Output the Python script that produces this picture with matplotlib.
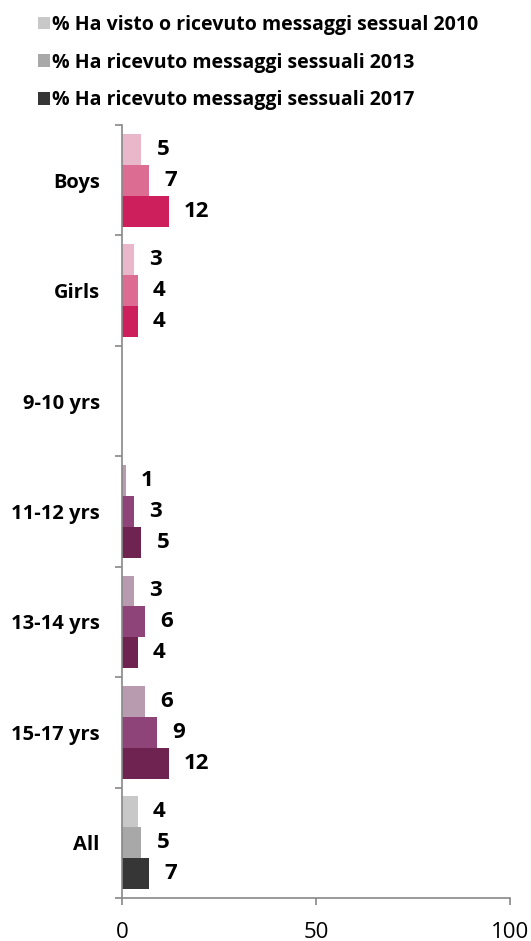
import matplotlib
matplotlib.use('Agg')
import matplotlib.pyplot as plt
from matplotlib.patches import Patch
import numpy as np

plt.rcParams['font.family'] = ['Open Sans', 'DejaVu Sans']

categories = ['Boys', 'Girls', '9-10 yrs', '11-12 yrs', '13-14 yrs', '15-17 yrs', 'All']
v2010 = [5, 3, None, 1, 3, 6, 4]
v2013 = [7, 4, None, 3, 6, 9, 5]
v2017 = [12, 4, None, 5, 4, 12, 7]
series_names = ['% Ha visto o ricevuto messaggi sessual 2010',
                '% Ha ricevuto messaggi sessuali 2013',
                '% Ha ricevuto messaggi sessuali 2017']

pink = ['#E8B8CA', '#DC6C91', '#CC1F5B']
purple = ['#B99BB0', '#8E4478', '#6E2350']
grey = ['#C8C8C8', '#A8A8A8', '#363636']
palette = [pink, pink, purple, purple, purple, purple, grey]

fig = plt.figure(figsize=(5.31, 9.41), dpi=100)
ax = fig.add_axes([0.2298, 0.0457, 0.7307, 0.8215])

h = 0.28
offsets = [-h, 0, h]
for k, vals in enumerate([v2010, v2013, v2017]):
    for i, v in enumerate(vals):
        if v is None:
            continue
        y = i + offsets[k]
        ax.barh(y, v, height=h, color=palette[i][k], edgecolor='none')
        ax.annotate(str(v), xy=(v, y), xytext=(11, 0), textcoords='offset points',
                    ha='left', va='center', fontsize=16, fontweight='bold')

ax.set_xlim(0, 100)
ax.set_ylim(len(categories) - 0.5, -0.5)
ax.set_xticks([0, 50, 100])
ax.tick_params(axis='x', labelsize=16, colors='#888888', length=5, width=1.2, pad=12,
               labelcolor='black')
ax.set_yticks(np.arange(len(categories) + 1) - 0.5)
ax.set_yticklabels([])
ax.set_yticks(np.arange(len(categories)), minor=True)
ax.set_yticklabels(categories, minor=True, fontsize=14.5, fontweight='bold')
ax.tick_params(axis='y', which='major', colors='#888888', length=5, width=1.2)
ax.tick_params(axis='y', which='minor', length=0, pad=16)
for s in ['top', 'right']:
    ax.spines[s].set_visible(False)
for s in ['left', 'bottom']:
    ax.spines[s].set_color('#888888')
    ax.spines[s].set_linewidth(1.2)

handles = [Patch(facecolor=c, edgecolor='none') for c in grey]
fig.legend(handles, series_names, loc='upper left', bbox_to_anchor=(0.039, 1.003),
           frameon=False, prop={'weight': 'bold', 'size': 14},
           handlelength=0.62, handleheight=0.62, handletextpad=0.1, labelspacing=0.92)

fig.savefig('out.png', dpi=100)
